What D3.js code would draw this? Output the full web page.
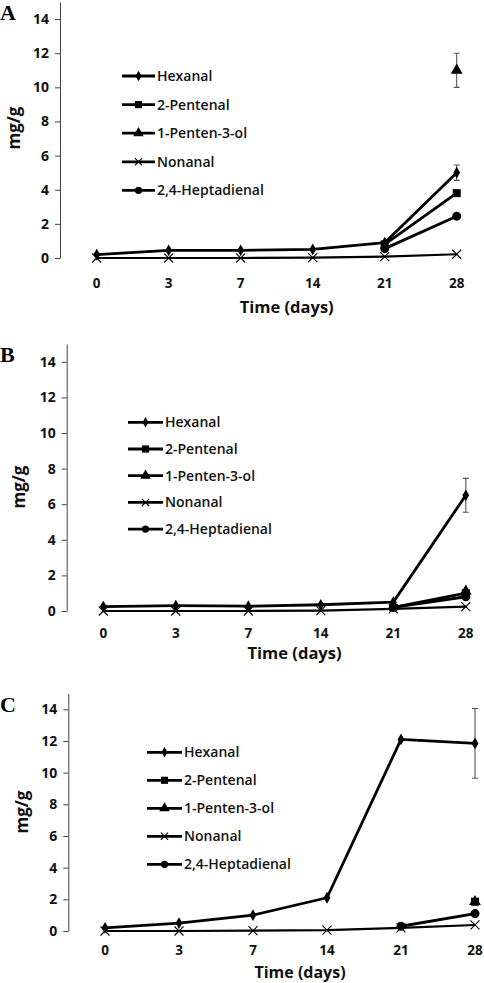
<!DOCTYPE html>
<html><head><meta charset="utf-8">
<script src="https://cdn.jsdelivr.net/npm/d3@7"></script>
<style>body{margin:0;background:#fff}svg{display:block}</style>
</head><body>
<script>
const days = ["0","3","7","14","21","28"];
const seriesNames = ["Hexanal","2-Pentenal","1-Penten-3-ol","Nonanal","2,4-Heptadienal"];
const yTicks = [0,2,4,6,8,10,12,14];
const panelLetters = ["A","B","C"];

// Panel A values (mg/g), null = not shown
const hexanalA    = [0.2,0.45,0.45,0.5,0.9,5.0];
const pentenalA   = [null,null,null,null,0.8,3.8];
const pentenolA   = [null,null,null,null,null,11.0];
const nonanalA    = [0,0,0,0.02,0.08,0.22];
const heptadienalA= [null,null,null,null,0.55,2.45];
const errorsA     = [{s:0,d:"28",e:0.45},{s:2,d:"28",e:1.0}];

// Panel B
const hexanalB    = [0.25,0.3,0.27,0.35,0.5,6.5];
const pentenalB   = [null,null,null,null,0.2,1.0];
const pentenolB   = [null,null,null,null,null,1.1];
const nonanalB    = [0,0,0,0.02,0.12,0.25];
const heptadienalB= [null,null,null,null,0.2,0.8];
const errorsB     = [{s:0,d:"28",e:0.95},{s:1,d:"28",e:0.15}];

// Panel C
const hexanalC    = [0.2,0.5,1.0,2.1,12.1,11.85];
const pentenalC   = [null,null,null,null,null,1.85];
const pentenolC   = [null,null,null,null,null,1.85];
const nonanalC    = [0,0,0.02,0.05,0.2,0.38];
const heptadienalC= [null,null,null,null,0.3,1.1];
const errorsC     = [{s:0,d:"28",e:2.2},{s:1,d:"28",e:0.2}];

const panels = [
  {letter:panelLetters[0], series:[hexanalA,pentenalA,pentenolA,nonanalA,heptadienalA], errors:errorsA,
   ax:60, y0:258, yTop:2, xFirst:96.7, step:72, tickY:288, titleY:313, titleSize:16.5, ylabX:14, ylabY:128,
   legX1:122, legX2:155, legY:76, legStep:28.6, letY:20},
  {letter:panelLetters[1], series:[hexanalB,pentenalB,pentenolB,nonanalB,heptadienalB], errors:errorsB,
   ax:66.7, y0:611, yTop:344, xFirst:103.3, step:72.5, tickY:638, titleY:659, titleSize:16.5, ylabX:19, ylabY:487,
   legX1:128, legX2:163, legY:422.3, legStep:26.7, letY:362},
  {letter:panelLetters[2], series:[hexanalC,pentenalC,pentenolC,nonanalC,heptadienalC], errors:errorsC,
   ax:68.3, y0:931, yTop:693.5, xFirst:105, step:74, tickY:955, titleY:978, titleSize:16, ylabX:22, ylabY:812,
   legX1:147, legX2:182, legY:752.3, legStep:28, letY:712}
];

const svg = d3.select("body").append("svg").attr("width",484).attr("height",983);
const FONT = "'Open Sans', 'DejaVu Sans', sans-serif";

function drawMarker(g, type, x, y, legend){
  const s = legend ? 0.8 : 1;
  if(type===0){ // diamond
    g.append("path").attr("d", d3.symbol(d3.symbolDiamond, 40*s)()).attr("transform",`translate(${x},${y})`).attr("fill","#000");
  } else if(type===1){
    g.append("path").attr("d", d3.symbol(d3.symbolSquare, 64*s)()).attr("transform",`translate(${x},${y})`).attr("fill","#000");
  } else if(type===2){
    g.append("path").attr("d", d3.symbol(d3.symbolTriangle, 60*s)()).attr("transform",`translate(${x},${y})`).attr("fill","#000");
  } else if(type===3){
    const r = 4.5*s;
    g.append("path").attr("d",`M${x-r},${y-r}L${x+r},${y+r}M${x-r},${y+r}L${x+r},${y-r}`).attr("stroke","#000").attr("stroke-width",1.1).attr("fill","none");
  } else {
    g.append("circle").attr("cx",x).attr("cy",y).attr("r",4.5*s).attr("fill","#000");
  }
}

panels.forEach(p=>{
  const g = svg.append("g");
  const x = d3.scalePoint().domain(days).range([p.xFirst, p.xFirst+5*p.step]);
  const y = d3.scaleLinear().domain([0,15]).range([p.y0, p.yTop]);

  // y axis
  const yAxis = d3.axisLeft(y).tickValues(yTicks).tickSize(5).tickPadding(6).tickSizeOuter(0);
  const ya = g.append("g").attr("transform",`translate(${p.ax},0)`).call(yAxis);
  ya.select(".domain").attr("stroke","#444").attr("stroke-width",1);
  ya.selectAll(".tick line").attr("stroke","#444");
  ya.selectAll("text").attr("font-family",FONT).attr("font-weight","bold").attr("font-size",14).attr("fill","#111");

  // x tick labels (no axis line)
  g.selectAll(".xt").data(days).join("text")
    .attr("x",d=>x(d)).attr("y",p.tickY).attr("text-anchor","middle")
    .attr("font-family",FONT).attr("font-weight","bold").attr("font-size",13.5).attr("fill","#111").text(d=>d);

  g.append("text").attr("x",(p.xFirst+p.xFirst+5*p.step)/2+10).attr("y",p.titleY).attr("text-anchor","middle")
    .attr("font-family",FONT).attr("font-weight","bold").attr("font-size",p.titleSize).attr("fill","#111").text("Time (days)");

  g.append("text").attr("transform",`translate(${p.ylabX+6},${p.ylabY}) rotate(-90)`).attr("text-anchor","middle")
    .attr("font-family",FONT).attr("font-weight","bold").attr("font-size",17).attr("fill","#111").text("mg/g");

  g.append("text").attr("x",0).attr("y",p.letY).attr("font-family","'Liberation Serif', 'DejaVu Serif', serif")
    .attr("font-weight","bold").attr("font-size",22).attr("fill","#000").text(p.letter);

  // lines
  const line = d3.line().defined(d=>d.v!==null).x(d=>x(d.d)).y(d=>y(d.v));
  p.series.forEach((vals,i)=>{
    const pts = days.map((d,j)=>({d, v: vals[j]}));
    g.append("path").datum(pts).attr("d",line).attr("fill","none").attr("stroke","#000")
      .attr("stroke-width", i===3 ? 2.2 : 2.8).attr("stroke-linejoin","round");
  });
  // error bars
  p.errors.forEach(e=>{
    const v = p.series[e.s][days.indexOf(e.d)];
    const cx = x(e.d), yt = y(v+e.e), yb = y(v-e.e);
    g.append("path").attr("d",`M${cx},${yt}V${yb}M${cx-3},${yt}H${cx+3}M${cx-3},${yb}H${cx+3}`)
      .attr("stroke","#555").attr("stroke-width",1.1).attr("fill","none");
  });
  // markers
  p.series.forEach((vals,i)=>{
    vals.forEach((v,j)=>{ if(v!==null) drawMarker(g,i,x(days[j]),y(v),false); });
  });

  // legend
  seriesNames.forEach((name,i)=>{
    const ly = p.legY + i*p.legStep;
    g.append("line").attr("x1",p.legX1).attr("x2",p.legX2).attr("y1",ly).attr("y2",ly).attr("stroke","#000").attr("stroke-width",2.8);
    drawMarker(g,i,(p.legX1+p.legX2)/2,ly,true);
    g.append("text").attr("x",p.legX2+2).attr("y",ly).attr("dy","0.36em")
      .attr("font-family",FONT).attr("font-weight","600").attr("font-size",14).attr("fill","#111").text(name);
  });
});
</script>
</body></html>
